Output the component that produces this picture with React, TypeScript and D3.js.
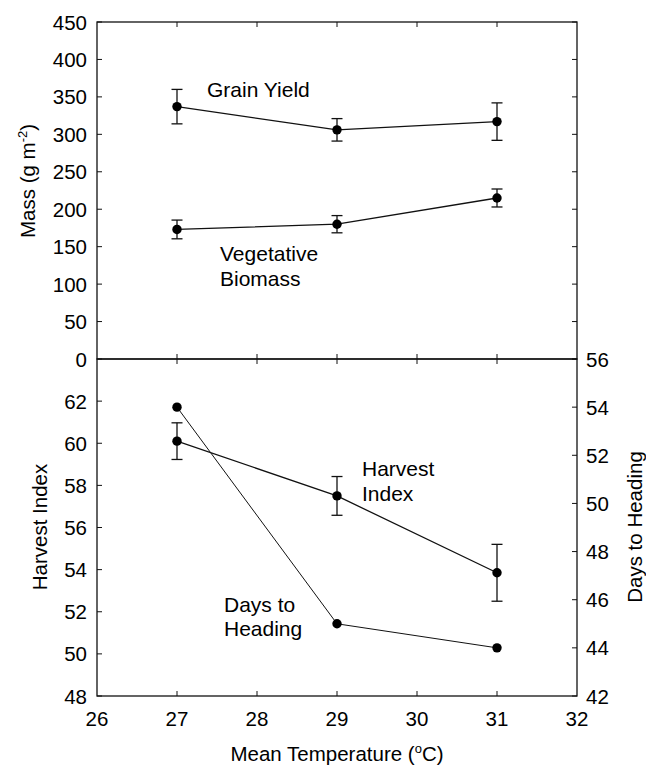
import React from 'react';
import * as d3 from 'd3';

const temps = [27, 29, 31];
const grainYield = [337, 306, 317];
const grainYieldErr = [23, 15, 25];
const vegBiomass = [173, 180, 215];
const vegBiomassErr = [12.5, 11.5, 12];
const harvestIndex = [60.1, 57.5, 53.85];
const harvestIndexErr = [0.87, 0.92, 1.35];
const daysToHeading = [54, 45, 44];

const xTicks = [26, 27, 28, 29, 30, 31, 32];
const massTicks = [0, 50, 100, 150, 200, 250, 300, 350, 400, 450];
const hiTicks = [48, 50, 52, 54, 56, 58, 60, 62];
const daysTicks = [42, 44, 46, 48, 50, 52, 54, 56];

const W = 646;
const H = 768;
const FONT = '"Liberation Sans", Arial, sans-serif';
const TICK = 5;

const x = d3.scaleLinear().domain([26, 32]).range([97, 577]);
const yMass = d3.scaleLinear().domain([0, 450]).range([359, 22]);
const yHI = d3.scaleLinear().domain([48, 64]).range([696, 359]);
const yDays = d3.scaleLinear().domain([42, 56]).range([696, 359]);

const Series = ({ vals, errs, y, width = 1.3 }) => {
  const line = d3
    .line<number>()
    .x((_, i) => x(temps[i]))
    .y((d) => y(d));
  return (
    <g>
      <path d={line(vals) ?? ''} fill="none" stroke="#111" strokeWidth={width} />
      {errs &&
        vals.map((v, i) => {
          const cx = x(temps[i]);
          const top = y(v + errs[i]);
          const bot = y(v - errs[i]);
          return (
            <g key={i} stroke="#111" strokeWidth={1.3}>
              <line x1={cx} x2={cx} y1={top} y2={bot} />
              <line x1={cx - 5.5} x2={cx + 5.5} y1={top} y2={top} />
              <line x1={cx - 5.5} x2={cx + 5.5} y1={bot} y2={bot} />
            </g>
          );
        })}
      {vals.map((v, i) => (
        <circle key={i} cx={x(temps[i])} cy={y(v)} r={4.7} fill="#000" />
      ))}
    </g>
  );
};

export default function App() {
  const left = x.range()[0];
  const right = x.range()[1];
  const top = yMass.range()[1];
  const mid = yMass.range()[0];
  const bottom = yHI.range()[0];

  return (
    <svg
      width={W}
      height={H}
      style={{ position: 'absolute', left: 0, top: 0, background: '#fff' }}
      fontFamily={FONT}
      fontSize={20.5}
    >
      {/* frames */}
      <g stroke="#111" strokeWidth={1.3} fill="none">
        <rect x={left} y={top} width={right - left} height={mid - top} />
        <rect x={left} y={mid} width={right - left} height={bottom - mid} />
      </g>

      {/* ticks */}
      <g stroke="#111" strokeWidth={1}>
        {xTicks.slice(1, -1).map((t) => (
          <g key={t}>
            <line x1={x(t)} x2={x(t)} y1={top} y2={top + TICK} />
            <line x1={x(t)} x2={x(t)} y1={mid - TICK} y2={mid + TICK} />
            <line x1={x(t)} x2={x(t)} y1={bottom} y2={bottom - TICK} />
          </g>
        ))}
        {massTicks.map((t) => (
          <g key={t}>
            <line x1={left} x2={left + TICK} y1={yMass(t)} y2={yMass(t)} />
            <line x1={right} x2={right - TICK} y1={yMass(t)} y2={yMass(t)} />
          </g>
        ))}
        {hiTicks.map((t) => (
          <line key={t} x1={left} x2={left + TICK} y1={yHI(t)} y2={yHI(t)} />
        ))}
        {daysTicks.map((t) => (
          <line key={t} x1={right} x2={right - TICK} y1={yDays(t)} y2={yDays(t)} />
        ))}
      </g>

      {/* tick labels */}
      <g fill="#000">
        {massTicks.map((t) => (
          <text key={t} x={left - 10} y={yMass(t)} textAnchor="end" dominantBaseline="central">
            {t}
          </text>
        ))}
        {hiTicks.map((t) => (
          <text key={t} x={left - 10} y={yHI(t)} textAnchor="end" dominantBaseline="central">
            {t}
          </text>
        ))}
        {daysTicks.map((t) => (
          <text key={t} x={right + 9} y={yDays(t)} textAnchor="start" dominantBaseline="central">
            {t}
          </text>
        ))}
        {xTicks.map((t) => (
          <text key={t} x={x(t)} y={726} textAnchor="middle">
            {t}
          </text>
        ))}
      </g>

      {/* axis titles */}
      <text x={337} y={761} textAnchor="middle">
        Mean Temperature (<tspan fontSize={13} dy={-8}>o</tspan>
        <tspan dy={8}>C)</tspan>
      </text>
      <text transform="translate(35,181) rotate(-90)" textAnchor="middle">
        Mass (g m<tspan fontSize={13} dy={-8}>-2</tspan>
        <tspan dy={8}>)</tspan>
      </text>
      <text transform="translate(47,527) rotate(-90)" textAnchor="middle">
        Harvest Index
      </text>
      <text transform="translate(642,527) rotate(-90)" textAnchor="middle">
        Days to Heading
      </text>

      {/* series */}
      <Series vals={grainYield} errs={grainYieldErr} y={yMass} />
      <Series vals={vegBiomass} errs={vegBiomassErr} y={yMass} />
      <Series vals={daysToHeading} errs={null} y={yDays} width={1} />
      <Series vals={harvestIndex} errs={harvestIndexErr} y={yHI} />

      {/* annotations */}
      <g fontSize={21}>
        <text x={207} y={97}>Grain Yield</text>
        <text x={220} y={261}>Vegetative</text>
        <text x={220} y={286}>Biomass</text>
        <text x={362} y={476}>Harvest</text>
        <text x={362} y={501}>Index</text>
        <text x={224} y={612}>Days to</text>
        <text x={224} y={636}>Heading</text>
      </g>
    </svg>
  );
}
